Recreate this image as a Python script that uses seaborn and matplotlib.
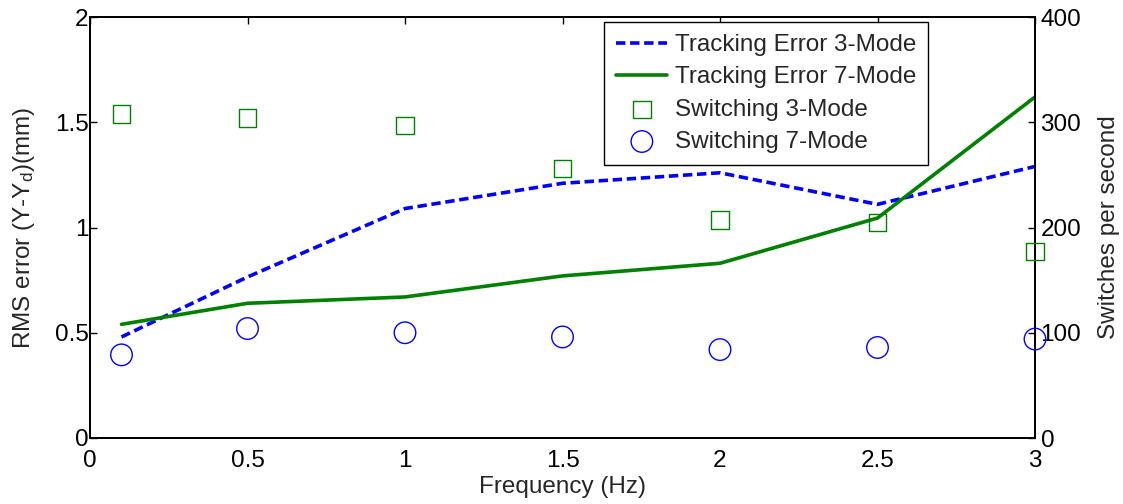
import matplotlib
matplotlib.use("Agg")
import matplotlib.pyplot as plt
import seaborn as sns
import numpy as np
import pandas as pd

# Frequency sweep (Hz)
freq = [0.1, 0.5, 1.0, 1.5, 2.0, 2.5, 3.0]

# RMS tracking error (mm)
err_3mode = [0.48, 0.765, 1.09, 1.21, 1.26, 1.11, 1.29]
err_7mode = [0.54, 0.64, 0.67, 0.77, 0.83, 1.045, 1.62]

# Switching rate (switches per second)
sw_3mode = [308, 304, 297, 256, 207, 205, 177]
sw_7mode = [79, 104, 100, 96, 84, 86, 94]

x_ticks = [0, 0.5, 1, 1.5, 2, 2.5, 3]
x_tick_labels = ["0", "0.5", "1", "1.5", "2", "2.5", "3"]
y_ticks = [0, 0.5, 1, 1.5, 2]
y_tick_labels = ["0", "0.5", "1", "1.5", "2"]
y2_ticks = [0, 100, 200, 300, 400]

sns.set_style("white")
plt.rcParams["font.family"] = ["Liberation Sans", "DejaVu Sans"]
plt.rcParams["mathtext.fontset"] = "custom"
plt.rcParams["mathtext.rm"] = "Liberation Sans"
plt.rcParams["mathtext.it"] = "Liberation Sans"

df = pd.DataFrame({"freq": freq, "e3": err_3mode, "e7": err_7mode,
                   "s3": sw_3mode, "s7": sw_7mode})

fig = plt.figure(figsize=(11.23, 5.04), dpi=100)
ax = fig.add_axes([90 / 1123, 1 - 438 / 504, 945 / 1123, 421 / 504])
ax2 = ax.twinx()

BLUE = (0, 0, 1)
GREEN = (0, 0.5, 0)

sns.lineplot(data=df, x="freq", y="e3", ax=ax, color=BLUE, lw=2.6,
             linestyle=(0, (2.6, 1.3)), label="Tracking Error 3-Mode", legend=False)
sns.lineplot(data=df, x="freq", y="e7", ax=ax, color=GREEN, lw=2.6,
             label="Tracking Error 7-Mode", legend=False)

sns.scatterplot(data=df, x="freq", y="s3", ax=ax2, marker="s", s=12.5 ** 2,
                facecolor="none", edgecolor=GREEN, linewidth=1.0,
                label="Switching 3-Mode", legend=False, clip_on=False, zorder=5)
sns.scatterplot(data=df, x="freq", y="s7", ax=ax2, marker="o", s=15.5 ** 2,
                facecolor="none", edgecolor=BLUE, linewidth=1.0,
                label="Switching 7-Mode", legend=False, clip_on=False, zorder=5)

ax.set_xlim(0, 3)
ax.set_ylim(0, 2)
ax2.set_ylim(0, 400)

ax.set_xticks(x_ticks)
ax.set_xticklabels(x_tick_labels)
ax.set_yticks(y_ticks)
ax.set_yticklabels(y_tick_labels)
ax2.set_yticks(y2_ticks)

fs = 17.5
ax.tick_params(axis="x", direction="in", length=5, width=1, labelsize=fs,
               top=True, pad=8.5, colors="black")
ax.tick_params(axis="y", direction="in", length=5, width=1, labelsize=fs,
               right=False, pad=1, colors="black")
ax2.tick_params(axis="y", direction="in", length=5, width=1, labelsize=fs,
                pad=4, colors="black")

for a in (ax, ax2):
    for sp in a.spines.values():
        sp.set_visible(True)
        sp.set_color("black")
        sp.set_linewidth(1.4)

ax.set_xlabel("Frequency (Hz)", fontsize=fs, labelpad=3)
ax.set_ylabel("RMS error (Y-Y$_\\mathregular{d}$)(mm)", fontsize=fs, labelpad=13)
ax2.set_ylabel("Switches per second", fontsize=fs, labelpad=12)

h1, l1 = ax.get_legend_handles_labels()
h2, l2 = ax2.get_legend_handles_labels()
leg = ax2.legend(h1 + h2, l1 + l2, loc="upper right",
                 bbox_to_anchor=(0.887, 0.988), fontsize=fs, frameon=True,
                 fancybox=False, edgecolor="black", framealpha=1,
                 handlelength=2.1, handletextpad=0.3, labelspacing=0.42,
                 borderpad=0.5, borderaxespad=0)
leg.get_frame().set_linewidth(1.0)

fig.savefig("out.png", dpi=100)
